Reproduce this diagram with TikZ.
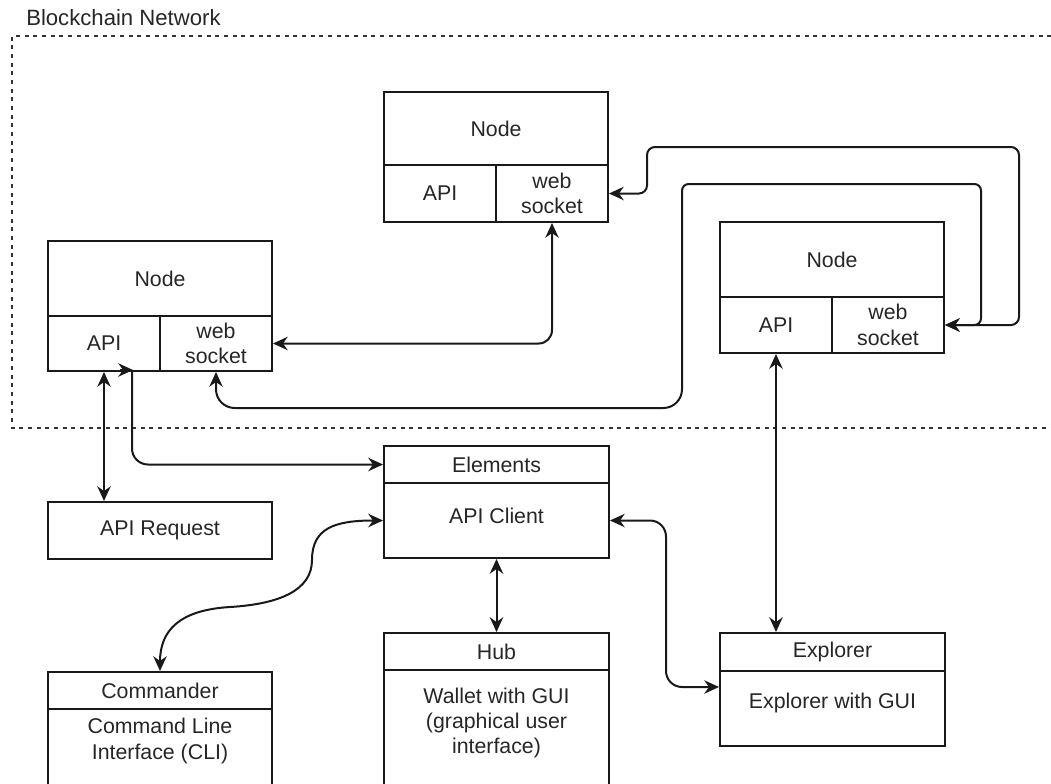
\documentclass[tikz,border=0pt]{standalone}
\usepackage{fontspec}
\setmainfont{Liberation Sans}
\usetikzlibrary{fit,arrows.meta,calc}
\begin{document}
\begin{tikzpicture}[x=0.75pt,y=-0.75pt,
  every node/.style={font=\fontsize{16}{19}\selectfont, text=black!85},
  cell/.style={draw=black!90, line width=1.5pt, inner sep=0pt},
  txt/.style={align=center, inner sep=0pt},
  tipA/.tip={Stealth[length=11pt,width=10pt,inset=3.5pt]},
  link/.style={draw=black!90, line width=1.5pt, tipA-tipA},
  onelink/.style={draw=black!90, line width=1.5pt, -tipA},
  zone/.style={draw=black!80, line width=1.2pt, dash pattern=on 3pt off 3.5pt}]
\useasboundingbox (0,0) rectangle (1051,783);
\clip (0,0) rectangle (1051,783);

% network zone
\node[anchor=west, inner sep=0pt, font=\fontsize{16.6}{19}\selectfont] (title) at (26,18) {Blockchain Network};
\draw[zone] (1060,36) -- (12,36) -- (12,428) -- (1060,428);

% top node
\node[cell, fit={(384,92) (608,165)}, label={[txt]center:Node}] (n1top) {};
\node[cell, fit={(384,165) (496,222)}, label={[txt]center:API}] (n1api) {};
\node[cell, fit={(496,165) (608,222)}, label={[txt]center:{web\\socket}}] (n1ws) {};

% left node
\node[cell, fit={(48,241) (272,316)}, label={[txt]center:Node}] (n2top) {};
\node[cell, fit={(48,316) (160,371)}, label={[txt]center:API}] (n2api) {};
\node[cell, fit={(160,316) (272,371)}, label={[txt]center:{web\\socket}}] (n2ws) {};

% right node
\node[cell, fit={(720,222) (944,297)}, label={[txt]center:Node}] (n3top) {};
\node[cell, fit={(720,297) (832,353)}, label={[txt]center:API}] (n3api) {};
\node[cell, fit={(832,297) (944,353)}, label={[txt]center:{web\\socket}}] (n3ws) {};

% API request
\node[cell, fit={(48,502) (272,559)}, label={[txt]center:API Request}] (apireq) {};

% Elements
\node[cell, fit={(384,446) (609,483)}, label={[txt]center:Elements}] (ehead) {};
\node[cell, fit={(384,483) (609,558)}] (ebody) {};
\node[txt] (etext) at (496.5,516) {API Client};

% Hub
\node[cell, fit={(384,633) (609,670)}, label={[txt]center:Hub}] (hubhead) {};
\node[cell, fit={(384,670) (609,800)}] (hubbody) {};
\node[txt] (hubtext) at (496.5,723) {Wallet with GUI\\(graphical user\\interface)};

% Commander
\node[cell, fit={(48,672) (272,709)}, label={[txt]center:Commander}] (cmdhead) {};
\node[cell, fit={(48,709) (272,800)}] (cmdbody) {};
\node[txt] (cmdtext) at (160,741) {Command Line\\Interface (CLI)};

% Explorer
\node[cell, fit={(720,633) (945,671)}, label={[txt]center:Explorer}] (exhead) {};
\node[cell, fit={(720,671) (945,746)}] (exbody) {};
\node[txt] (extext) at (832.5,703) {Explorer with GUI};

% connectors between nodes
\draw[link, rounded corners=10pt] (n2ws.east) -| (n1ws.south);
\draw[link] (n2ws.south) [rounded corners=14pt] |- (682,408)
  [rounded corners=5pt] |- (981,184) |- (n3ws.east);
\draw[link, rounded corners=6pt] (n1ws.east) -| (647,147)
  -| ($(n3ws.east)+(74,0)$) -- (n3ws.east);

\draw[link] (n2api.south) -- (n2api.south |- apireq.north);

\coordinate (c5top) at (132,371);
\draw[onelink, rounded corners=12pt] (c5top) |- (ehead.west);
\draw[onelink] ($(c5top)+(-12,-1)$) -- ($(c5top)+(1,-1)$);

\draw[link] (cmdhead.north) .. controls (160,630) and (180,610) .. (230,607)
  .. controls (280,604) and (312,590) .. (312,560)
  .. controls (312,528) and (335,520.5) .. (ebody.west);

\draw[link] (ebody.south) -- (hubhead.north);

\coordinate (exin) at ($(exbody.north west)+(0,17)$);
\draw[link, rounded corners=12pt] (ebody.east) -| ($(exin)+(-53,0)$) -- (exin);

\draw[link] (n3api.south) -- (n3api.south |- exhead.north);
\end{tikzpicture}
\end{document}
